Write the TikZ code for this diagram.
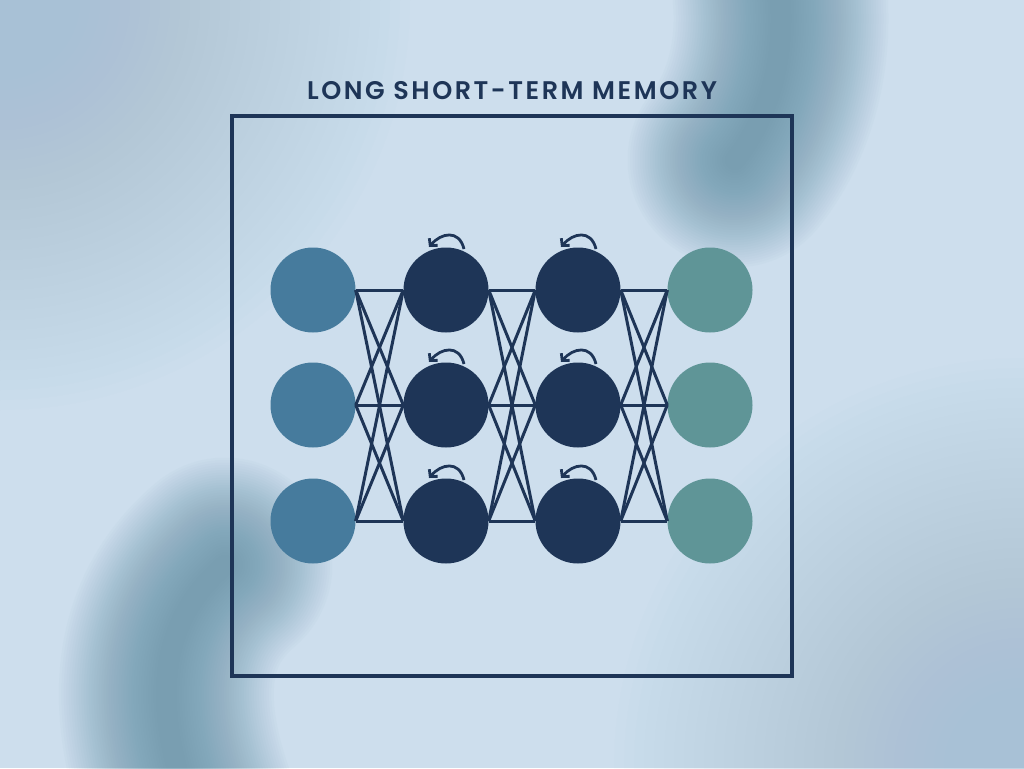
\documentclass[tikz,border=0pt]{standalone}
\usepackage{fontspec}
\setmainfont{Poppins}[UprightFont=* SemiBold, BoldFont=* Bold]
\usetikzlibrary{arrows.meta}
\definecolor{bgc}{HTML}{CDDEED}
\definecolor{navy}{HTML}{1E3557}
\definecolor{inc}{HTML}{467B9D}
\definecolor{outc}{HTML}{5F9597}
\definecolor{blob}{HTML}{5F8EA3}
\definecolor{corner}{HTML}{A8C1D6}
\tikzset{
  neuron/.style={circle, minimum size=85pt, inner sep=0pt, draw=none},
  innode/.style={neuron, fill=inc},
  hidnode/.style={neuron, fill=navy},
  outnode/.style={neuron, fill=outc},
  link/.style={draw=navy, line width=3pt},
  loopback/.style={draw=navy, line width=2.8pt, -{Straight Barb[length=5pt,width=11pt,line width=2.8pt]}},
  frame/.style={draw=navy, line width=3.5pt},
}
\begin{document}
\begin{tikzpicture}[x=1pt,y=-1pt]
\useasboundingbox (0,0) rectangle (1024,768);
\fill[bgc] (0,0) rectangle (1024,768);
% soft blurred blobs
\begin{scope}
\clip (0,0) rectangle (1024,768);
\foreach \w in {1,...,40} {
  \fill[corner, opacity=0.03] (1024,768) circle[radius=(420-\w*10)*1pt];
  \fill[corner, opacity=0.03] (0,0) circle[radius=(420-\w*10)*1pt];
  \draw[blob, opacity=0.028, line width=(220-\w*5)*1pt, line cap=round]
    (770,-60) .. controls (795,30) and (775,110) .. (735,160);
  \draw[blob, opacity=0.028, line width=(220-\w*5)*1pt, line cap=round]
    (225,565) .. controls (160,620) and (150,700) .. (190,810);
}
\end{scope}
% title
\node[text=navy, font=\fontsize{25.5}{30}\selectfont\addfontfeatures{LetterSpace=10}] (title) at (512,91) {LONG SHORT-TERM MEMORY};
% frame
\draw[frame] (232,116) rectangle (792,676);
% neurons
\foreach \r/\y in {1/290,2/405,3/521} {
  \node[innode] (a\r) at (313,\y) {};
  \node[hidnode] (b\r) at (446,\y) {};
  \node[hidnode] (c\r) at (578,\y) {};
  \node[outnode] (d\r) at (710,\y) {};
}
% links
\foreach \i in {1,2,3} {
  \foreach \j in {1,2,3} {
    \draw[link] (a\i.east) -- (b\j.west);
    \draw[link] (b\i.east) -- (c\j.west);
    \draw[link] (c\i.east) -- (d\j.west);
  }
}
% recurrent loops
\foreach \n in {b1,b2,b3,c1,c2,c3} {
  \draw[loopback] ([shift={(18,-41)}]\n.center) .. controls +(-5,-20) and +(12,-14) .. ([shift={(-17,-43)}]\n.center);
}
\end{tikzpicture}
\end{document}
